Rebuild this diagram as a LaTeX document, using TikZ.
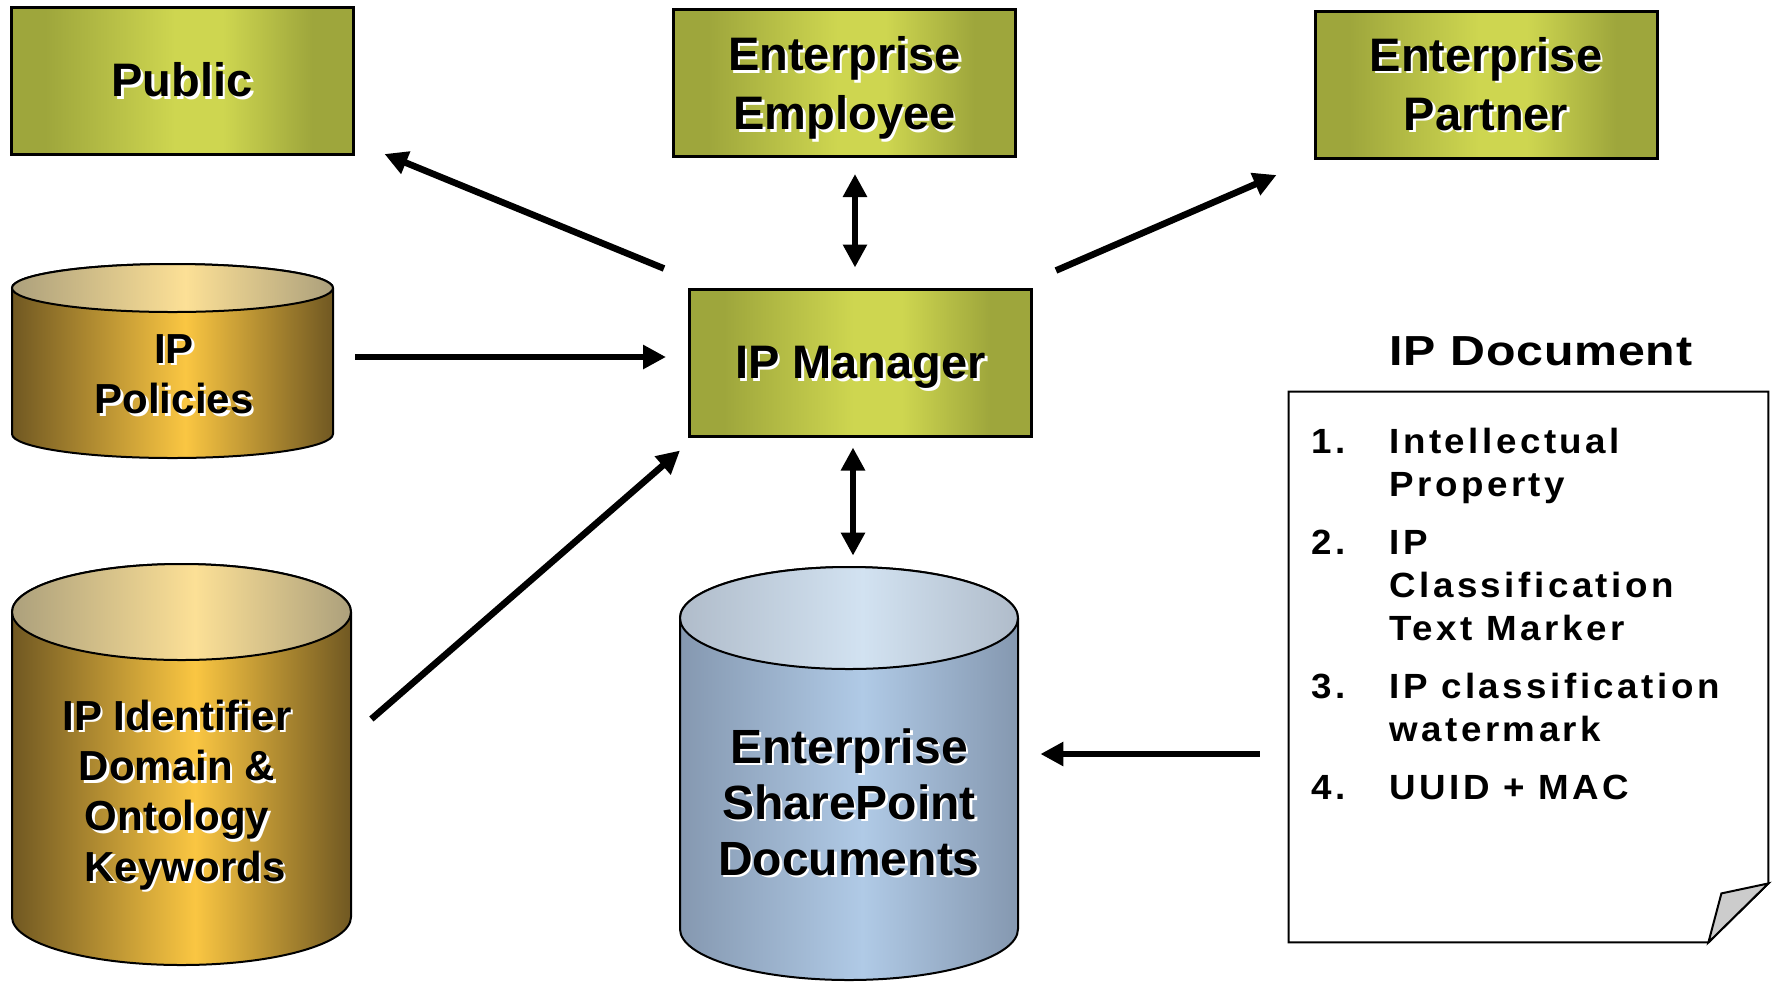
\documentclass[tikz,border=0pt]{standalone}
\usepackage{fontspec}
\setmainfont{Liberation Sans}
\newfontfamily\listfont{Liberation Sans}[FakeStretch=1.05, LetterSpace=10]
\newfontfamily\titlefont{Liberation Sans}[FakeStretch=1.15, LetterSpace=2]
\usetikzlibrary{arrows.meta, calc}

\definecolor{gdark}{RGB}{158,166,60}
\definecolor{glight}{RGB}{206,214,80}
\definecolor{odark}{RGB}{112,88,34}
\definecolor{olight}{RGB}{250,198,66}
\definecolor{otopdark}{RGB}{172,160,124}
\definecolor{otoplight}{RGB}{252,224,150}
\definecolor{bdark}{RGB}{133,152,176}
\definecolor{blight}{RGB}{176,202,230}
\definecolor{btopdark}{RGB}{176,188,202}
\definecolor{btoplight}{RGB}{210,226,241}
\definecolor{foldgray}{RGB}{204,204,204}

% left-to-right metallic gradients
\pgfdeclarehorizontalshading{greenbar}{100bp}{color(0bp)=(gdark); color(30bp)=(gdark); color(49bp)=(glight); color(56bp)=(glight); color(69bp)=(gdark); color(100bp)=(gdark)}
\pgfdeclarehorizontalshading{goldbody}{100bp}{color(0bp)=(odark); color(25bp)=(odark); color(52bp)=(olight); color(75bp)=(odark); color(100bp)=(odark)}
\pgfdeclarehorizontalshading{goldtop}{100bp}{color(0bp)=(otopdark); color(25bp)=(otopdark); color(52bp)=(otoplight); color(75bp)=(otopdark); color(100bp)=(otopdark)}
\pgfdeclarehorizontalshading{bluebody}{100bp}{color(0bp)=(bdark); color(25bp)=(bdark); color(52bp)=(blight); color(75bp)=(bdark); color(100bp)=(bdark)}
\pgfdeclarehorizontalshading{bluetop}{100bp}{color(0bp)=(btopdark); color(25bp)=(btopdark); color(52bp)=(btoplight); color(75bp)=(btopdark); color(100bp)=(btopdark)}

% bold label with a white drop shadow
\newcommand\sh[1]{\makebox[0pt][l]{\hspace*{1.3pt}\raisebox{-1.3pt}{\textcolor{white}{#1}}}#1}
% ignore descenders when centring a line
\newcommand\nd[1]{\raisebox{0pt}[\height][0pt]{#1}}

% drum: cx, top y, bottom y, rx, ry, body shading, lid shading
\newcommand\drum[7]{%
  \path[draw=black, line width=1pt, shading=#6]
    ({#1-#4},#2) -- ({#1-#4},#3)
    arc[start angle=180, end angle=0, x radius=#4, y radius=#5]
    -- ({#1+#4},#2)
    arc[start angle=0, end angle=-180, x radius=#4, y radius=#5] -- cycle;
  \path[draw=black, line width=1pt, shading=#7]
    (#1,#2) ellipse[x radius=#4, y radius=#5];
}

\tikzset{
  gbox/.style={draw=black, line width=1.5pt, shading=greenbar,
    minimum width=171pt, minimum height=73.5pt, inner sep=0pt, align=center,
    font=\fontsize{23.5pt}{29.5pt}\selectfont\bfseries},
  drumtext/.style={anchor=base, inner sep=0pt,
    font=\fontsize{21pt}{25.2pt}\selectfont\bfseries},
  bigdrumtext/.style={anchor=base, inner sep=0pt,
    font=\fontsize{24pt}{28pt}\selectfont\bfseries},
  listitem/.style={anchor=base west, inner sep=0pt,
    font=\listfont\fontsize{17.5pt}{21pt}\selectfont\bfseries},
  arr/.style={line width=3.3pt, -{Triangle[length=11.5pt, width=11.5pt]}},
  darr/.style={line width=3.3pt,
    {Triangle[length=11.5pt, width=11.5pt]}-{Triangle[length=11.5pt, width=11.5pt]}},
}

\begin{document}
\begin{tikzpicture}[x=0.5pt, y=-0.5pt]
\fill[white] (0,0) rectangle (1773,982);
\useasboundingbox (0,0) rectangle (1773,982);

% actors
\node[gbox] (public)   at (182,81)      {\sh{Public}};
\node[gbox] (employee) at (844.5,83)    {\sh{Enterprise}\\\nd{\sh{Employee}}};
\node[gbox] (partner)  at (1486,85)     {\sh{Enterprise}\\\sh{Partner}};
\node[gbox] (mgr)      at (860.5,362.5) {\nd{\sh{IP Manager}}};

% data stores
\drum{172.5}{288}{434}{160.5}{24}{goldbody}{goldtop}
\node[inner sep=0pt, minimum width=160.5pt, minimum height=97pt] (policies) at (172.5,361) {};
\node[drumtext] (policieslabel) at (174,363)
  {\begin{tabular}[t]{@{}c@{}}\sh{IP}\\\sh{Policies}\end{tabular}};

\drum{181.5}{612}{917}{169.5}{48}{goldbody}{goldtop}
\node[inner sep=0pt, minimum width=169.5pt, minimum height=200.5pt] (ident) at (181.5,764.5) {};
\node[drumtext] (identlabel) at (177,730)
  {\begin{tabular}[t]{@{}c@{}}\sh{IP Identifier}\\\sh{Domain \&}\\\sh{Ontology}\\\hspace*{8pt}\sh{Keywords}\end{tabular}};

\drum{849}{618}{929}{169}{51}{bluebody}{bluetop}
\node[inner sep=0pt, minimum width=169pt, minimum height=206.5pt] (spdocs) at (849,773.5) {};
\node[bigdrumtext] (spdocslabel) at (849,763)
  {\begin{tabular}[t]{@{}c@{}}\sh{Enterprise}\\\sh{SharePoint}\\\sh{Documents}\end{tabular}};

% document sheet with turned corner
\node[inner sep=0pt, minimum width=239.5pt, minimum height=275pt] (doc) at (1528.5,667) {};
\draw[line width=1pt, fill=white]
  (doc.north west) -- (doc.north east) -- ($(doc.south east)+(0,-59)$)
  -- ($(doc.south east)+(-60,0)$) -- (doc.south west) -- cycle;
\draw[line width=1pt, fill=foldgray]
  ($(doc.south east)+(-60,0)$) -- ($(doc.south east)+(-47,-49)$)
  -- ($(doc.south east)+(0,-59)$) -- cycle;

\node[anchor=base, inner sep=0pt, font=\titlefont\fontsize{21pt}{25pt}\selectfont\bfseries]
  (doctitle) at (1541,365) {IP Document};

\node[listitem] (n1) at (1311,453) {1.};
\node[listitem] (t1a) at (1389,453) {Intellectual};
\node[listitem] (t1b) at (1389,496) {Property};
\node[listitem] (n2) at (1311,554) {2.};
\node[listitem] (t2a) at (1389,554) {IP};
\node[listitem] (t2b) at (1389,597) {Classification};
\node[listitem] (t2c) at (1389,640) {Text Marker};
\node[listitem] (n3) at (1311,698) {3.};
\node[listitem] (t3a) at (1389,698) {IP classification};
\node[listitem] (t3b) at (1389,741) {watermark};
\node[listitem] (n4) at (1311,799) {4.};
\node[listitem] (t4a) at (1389,799) {UUID + MAC};

% connectors
\draw[arr]  ($(mgr.north west)+(-24,-19)$) -- ($(public.south east)+(30,-2)$);
\draw[darr] ($(employee.south)+(10.5,16)$) -- ($(mgr.north)+(-5.5,-20)$);
\draw[arr]  ($(mgr.north east)+(23,-17)$) -- ($(partner.south west)+(-37,15)$);
\draw[arr]  ($(policies.east)+(22,-4)$) -- ($(mgr.west)+(-22,-5.5)$);
\draw[arr]  ($(ident.east)+(20,-45.5)$) -- ($(mgr.south west)+(-8,13)$);
\draw[darr] ($(mgr.south)+(-7.5,10)$) -- ($(spdocs.north)+(4,-11)$);
\draw[arr]  ($(doc.west)+(-29,87)$) -- ($(spdocs.east)+(22,-19.5)$);
\end{tikzpicture}
\end{document}
